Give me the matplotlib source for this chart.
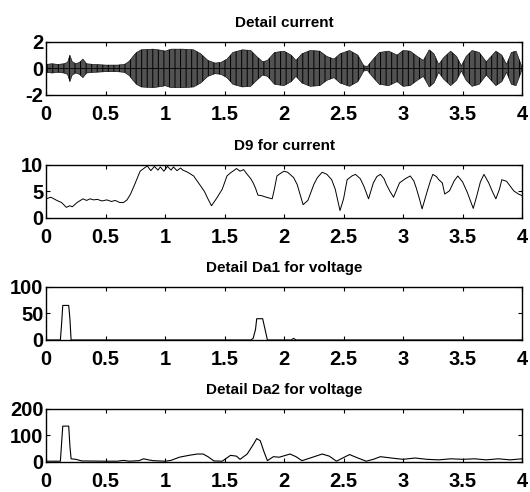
import numpy as np
import matplotlib
matplotlib.use("Agg")
import matplotlib.pyplot as plt

# ---- data ----
# panel 1: envelope of the oscillating detail current (amplitude vs time)
t_env = [0, 0.05, 0.1, 0.15, 0.18, 0.2, 0.22, 0.25, 0.28, 0.31, 0.34, 0.4, 0.5,
         0.6, 0.66, 0.7, 0.73, 0.76, 0.8, 0.9, 0.98, 1.0, 1.05, 1.15, 1.24, 1.3,
         1.36, 1.42, 1.47, 1.52, 1.57, 1.65, 1.72, 1.77, 1.82, 1.86, 1.92, 2.0,
         2.06, 2.1, 2.15, 2.22, 2.3, 2.36, 2.42, 2.47, 2.55, 2.62, 2.67, 2.7,
         2.74, 2.8, 2.88, 2.95, 3.0, 3.06, 3.12, 3.17, 3.22, 3.26, 3.3, 3.34,
         3.4, 3.45, 3.49, 3.53, 3.58, 3.64, 3.7, 3.74, 3.78, 3.83, 3.87, 3.91,
         3.95, 4.0]
amp_env = [0.3, 0.35, 0.3, 0.35, 0.45, 1.0, 0.5, 0.35, 0.45, 0.7, 0.35, 0.3, 0.25,
           0.25, 0.3, 0.55, 0.9, 1.2, 1.4, 1.45, 1.35, 1.3, 1.45, 1.45, 1.4, 1.1,
           0.6, 0.4, 0.45, 0.7, 1.2, 1.4, 1.35, 0.9, 0.5, 0.6, 1.2, 1.3,
           1.0, 0.6, 1.1, 1.35, 1.3, 0.9, 0.7, 1.1, 1.35, 1.0, 0.2, 0.15,
           0.6, 1.2, 1.3, 1.0, 1.35, 1.3, 0.9, 0.6, 1.4, 1.1, 0.3, 0.8,
           1.3, 0.9, 0.2, 0.9, 1.35, 1.2, 0.5, 0.9, 1.3, 1.0, 0.3, 1.2,
           1.3, 0.1]

# panel 2: D9 for current
t_d9 = [0, 0.04, 0.09, 0.13, 0.17, 0.2, 0.22, 0.26, 0.31, 0.34, 0.37, 0.4, 0.43,
        0.47, 0.51, 0.55, 0.58, 0.62, 0.65, 0.68, 0.71, 0.75, 0.79, 0.82, 0.85,
        0.88, 0.91, 0.94, 0.96, 0.99, 1.02, 1.05, 1.07, 1.1, 1.13, 1.15, 1.19,
        1.24, 1.29, 1.33, 1.36, 1.39, 1.43, 1.48, 1.52, 1.55, 1.57, 1.6, 1.63,
        1.66, 1.69, 1.72, 1.74, 1.76, 1.78, 1.81, 1.85, 1.9, 1.92, 1.94, 1.97,
        2.0, 2.03, 2.05, 2.08, 2.11, 2.14, 2.16, 2.2, 2.25, 2.28, 2.32, 2.36,
        2.4, 2.43, 2.47, 2.5, 2.53, 2.57, 2.6, 2.64, 2.67, 2.71, 2.75, 2.78,
        2.81, 2.84, 2.86, 2.89, 2.92, 2.97, 3.02, 3.06, 3.09, 3.11, 3.14, 3.16,
        3.2, 3.23, 3.25, 3.28, 3.3, 3.33, 3.35, 3.39, 3.43, 3.46, 3.5, 3.54,
        3.57, 3.59, 3.62, 3.65, 3.68, 3.72, 3.75, 3.78, 3.81, 3.83, 3.87, 3.9,
        3.93, 3.97, 4.0]
v_d9 = [3.6, 3.9, 3.3, 2.9, 2.0, 2.3, 2.1, 2.9, 3.6, 3.3, 3.6, 3.4, 3.5,
        3.2, 3.4, 3.1, 3.3, 2.9, 2.9, 3.4, 4.5, 6.6, 8.8, 9.3, 9.8,
        8.9, 9.7, 9.0, 9.6, 8.8, 9.7, 9.0, 9.6, 8.9, 9.4, 9.0, 8.6,
        7.9, 6.3, 5.0, 3.6, 2.3, 3.6, 5.4, 7.9, 8.5, 8.8, 9.3, 8.8,
        9.1, 8.2, 7.4, 6.6, 5.6, 4.3, 4.2, 3.9, 3.6, 5.6, 7.9, 8.4,
        8.8, 8.6, 8.2, 7.6, 6.3, 4.0, 2.5, 3.3, 6.3, 7.6, 8.6, 8.2,
        7.2, 5.4, 1.4, 3.6, 7.2, 7.9, 8.2, 7.4, 6.0, 3.6, 6.6, 7.8,
        8.2, 7.4, 6.3, 5.0, 3.9, 6.6, 7.4, 7.9, 7.0, 5.7, 3.4, 1.7,
        4.8, 7.0, 8.2, 7.8, 7.2, 6.6, 4.5, 5.1, 7.0, 7.9, 6.8, 4.8,
        3.0, 1.8, 4.2, 6.8, 8.2, 6.6, 5.0, 3.6, 5.4, 7.2, 6.9, 6.0,
        5.1, 4.5, 4.2]

# panel 3: detail Da1 for voltage
t_da1 = [0, 0.12, 0.13, 0.14, 0.19, 0.2, 0.21, 1.72, 1.74, 1.76, 1.77, 1.82,
         1.84, 1.86, 2.06, 2.08, 2.1, 4.0]
v_da1 = [0, 0, 30, 65, 65, 40, 0, 0, 3, 20, 40, 40, 20, 0, 0, 3, 0, 0]

# panel 4: detail Da2 for voltage
t_da2 = [0, 0.12, 0.13, 0.14, 0.19, 0.2, 0.21, 0.25, 0.3, 0.5, 0.6, 0.65, 0.7,
         0.78, 0.82, 0.86, 0.9, 1.0, 1.05, 1.12, 1.2, 1.27, 1.32, 1.36, 1.41,
         1.48, 1.55, 1.6, 1.63, 1.69, 1.74, 1.77, 1.8, 1.83, 1.86, 1.91, 1.96,
         2.05, 2.1, 2.15, 2.22, 2.32, 2.38, 2.44, 2.55, 2.62, 2.69, 2.75, 2.81,
         2.9, 3.0, 3.1, 3.2, 3.3, 3.4, 3.5, 3.6, 3.7, 3.8, 3.9, 4.0]
v_da2 = [3, 3, 70, 135, 135, 60, 12, 10, 4, 3, 3, 6, 3,
         5, 12, 8, 5, 3, 6, 18, 25, 30, 30, 20, 4,
         3, 25, 22, 10, 30, 65, 88, 80, 40, 5, 20, 18,
         30, 20, 5, 15, 30, 22, 3, 28, 15, 3, 10, 20,
         15, 10, 15, 10, 8, 12, 10, 12, 8, 12, 8, 12]

x_ticks = [0, 0.5, 1, 1.5, 2, 2.5, 3, 3.5, 4]
x_labels = ["0", "0.5", "1", "1.5", "2", "2.5", "3", "3.5", "4"]

plt.rcParams["font.family"] = ["Liberation Sans Narrow", "Liberation Sans", "DejaVu Sans"]
plt.rcParams["font.weight"] = "bold"
plt.rcParams["hatch.linewidth"] = 0.7

fig = plt.figure(figsize=(5.3, 4.92), dpi=100)

left, width = 0.087, 0.898
boxes = [0.807, 0.557, 0.309, 0.061]
height = 0.108

specs = [
    ("Detail current", (-2, 2), [-2, 0, 2]),
    ("D9 for current", (0, 10), [0, 5, 10]),
    ("Detail Da1 for voltage", (0, 100), [0, 50, 100]),
    ("Detail Da2 for voltage", (0, 200), [0, 100, 200]),
]

axes = []
for b, (title, ylim, yt) in zip(boxes, specs):
    ax = fig.add_axes([left, b, width, height])
    ax.set_xlim(0, 4)
    ax.set_ylim(*ylim)
    ax.set_xticks(x_ticks)
    ax.set_xticklabels(x_labels)
    ax.set_yticks(yt)
    ax.set_yticklabels([str(v) for v in yt])
    ax.tick_params(direction="in", top=True, right=True, length=3, width=0.8,
                   labelsize=14.5)
    ax.tick_params(axis="x", pad=7)
    ax.tick_params(axis="y", pad=2)
    for s in ax.spines.values():
        s.set_linewidth(1.0)
    ax.set_title(title, fontsize=11, fontweight="bold", pad=11)
    axes.append(ax)

ax1, ax2, ax3, ax4 = axes

# oscillation drawn as its envelope, striped like the dense trace
amp = np.array(amp_env)
ax1.fill_between(t_env, -amp, amp, facecolor="#525252", edgecolor="black",
                 hatch="|||", linewidth=0.4)
ax1.plot(t_env, np.zeros(len(t_env)), color="black", lw=0.6)

ax2.plot(t_d9, v_d9, color="black", lw=0.7)
ax3.plot(t_da1, v_da1, color="black", lw=0.8)
ax4.plot(t_da2, v_da2, color="black", lw=0.8)

fig.savefig("out.png", dpi=100)
